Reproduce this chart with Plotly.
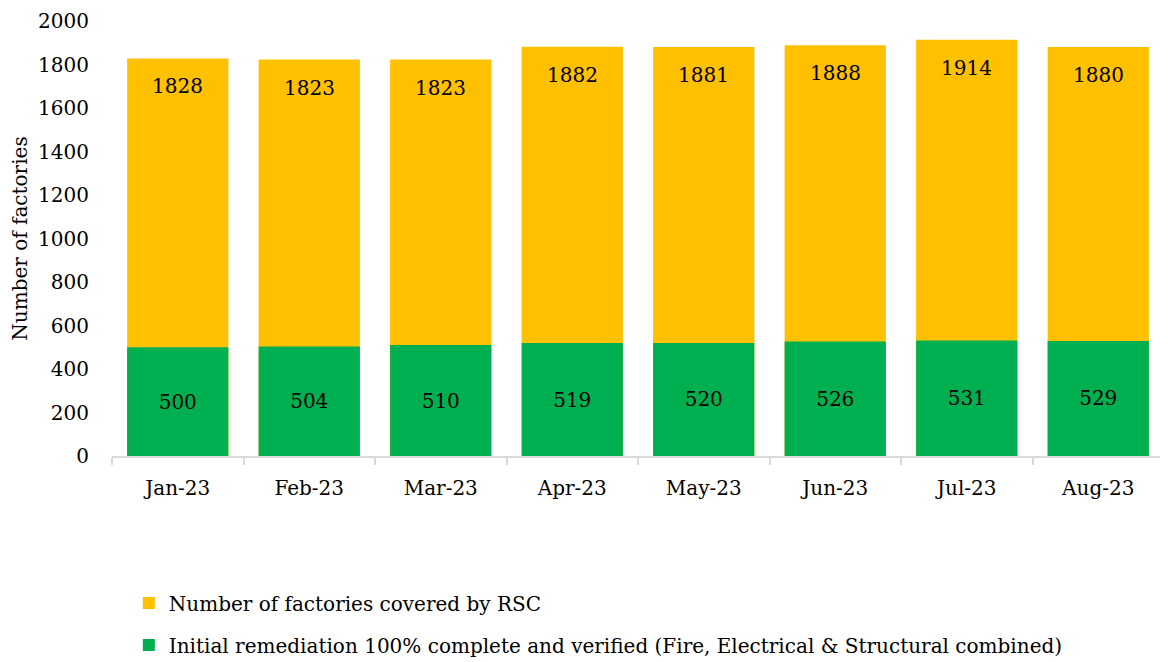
import plotly.graph_objects as go

months = ["Jan-23", "Feb-23", "Mar-23", "Apr-23", "May-23", "Jun-23", "Jul-23", "Aug-23"]
covered = [1828, 1823, 1823, 1882, 1881, 1888, 1914, 1880]
remediated = [500, 504, 510, 519, 520, 526, 531, 529]
name_covered = "Number of factories covered by RSC"
name_remediated = "Initial remediation 100% complete and verified (Fire, Electrical & Structural combined)"

FONT = "DejaVu Serif"

fig = go.Figure()
fig.add_trace(go.Bar(
    x=months, y=covered, name=name_covered,
    marker=dict(color="#FFC000", line=dict(width=0)),
    legendgroup="a",
))
fig.add_trace(go.Bar(
    x=months, y=remediated, name=name_remediated,
    marker=dict(color="#00B050", line=dict(width=0)),
    text=[str(v) for v in remediated], textposition="inside",
    insidetextanchor="middle", textfont=dict(family=FONT, size=20, color="black"),
    legendgroup="b",
))

for m, v in zip(months, covered):
    fig.add_annotation(x=m, y=v, text=str(v), showarrow=False, yanchor="top",
                       yshift=-14, font=dict(family=FONT, size=20, color="black"))

# page body has an 8px margin, so the figure is sized to fit the 1168x662 window
fig.update_layout(
    width=1160, height=654,
    barmode="overlay", bargap=0.23,
    plot_bgcolor="white", paper_bgcolor="white",
    margin=dict(l=104, r=4, t=13, b=206, autoexpand=False),
    font=dict(family=FONT, size=20, color="black"),
    showlegend=True,
    legend=dict(orientation="v", x=0.016, xanchor="left", y=-0.293, yanchor="top",
                traceorder="grouped", tracegroupgap=13,
                font=dict(family=FONT, size=20, color="black")),
    xaxis=dict(showline=True, linecolor="#D9D9D9", linewidth=1.5, automargin=False,
               ticks="outside", tickson="boundaries", ticklen=7, tickcolor="#D9D9D9",
               tickwidth=1.5, ticklabelstandoff=13, showgrid=False,
               tickfont=dict(family=FONT, size=20, color="black")),
    yaxis=dict(range=[0, 2000], dtick=200, showgrid=False, showline=False,
               zeroline=False, ticks="", ticklabelstandoff=22, automargin=False,
               ticklabeloverflow="allow",
               tickfont=dict(family=FONT, size=20, color="black"),
               title=dict(text="Number of factories", standoff=8,
                          font=dict(family=FONT, size=20, color="black"))),
)

fig.write_html("out.html")
